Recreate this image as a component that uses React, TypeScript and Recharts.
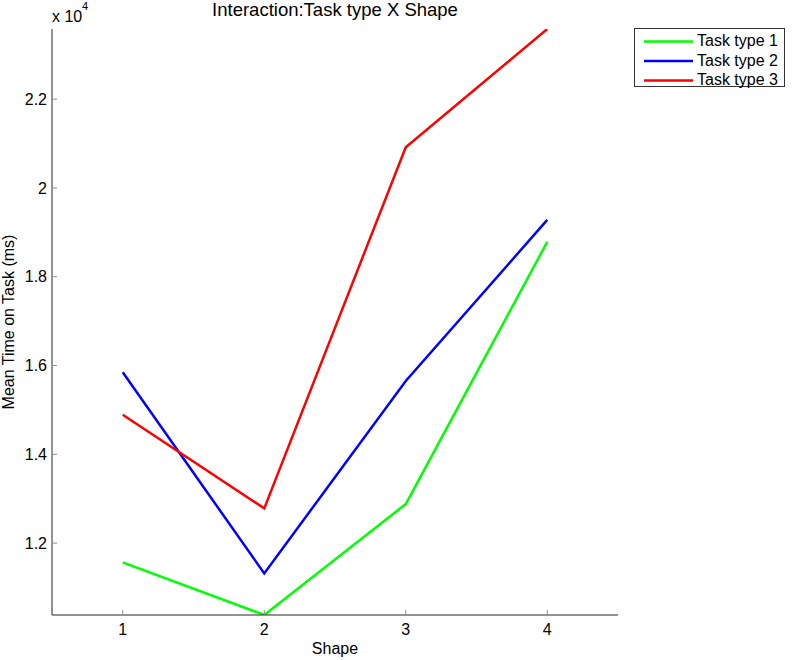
import React from 'react';
import { LineChart, Line, XAxis, YAxis, Legend } from 'recharts';

// values (ms)
const shapes = [1, 2, 3, 4];
const taskType1 = [11565, 10380, 12879, 18784];
const taskType2 = [15847, 11317, 15650, 19280];
const taskType3 = [14892, 12782, 20918, 23580];
const seriesKeys = ['t1', 't2', 't3'];
const seriesNames = ['Task type 1', 'Task type 2', 'Task type 3'];
const seriesColors = ['#00ff00', '#0000ff', '#ff0000'];
const yTicks = [12000, 14000, 16000, 18000, 20000, 22000];
const yDomain = [10380, 23580];
const xDomain = [0.5, 4.5];

const data = shapes.map((s, i) => ({
  shape: s,
  t1: taskType1[i],
  t2: taskType2[i],
  t3: taskType3[i],
}));

const FONT = '"Liberation Sans", Arial, Helvetica, sans-serif';
const darkAxis = '#262626';
const lightAxis = '#8c8c8c';
const TICK_LEN = 5;

const fmtY = (v: number) => String(parseFloat((v / 10000).toFixed(1)));

// MATLAB style: tick marks point into the plot box
const BottomTick = ({ x, y, payload }: any) => (
  <g>
    <line x1={x} x2={x} y1={y} y2={y - TICK_LEN} stroke={lightAxis} />
    <text x={x} y={y + 20} textAnchor="middle" fontSize={16} fontFamily={FONT} fill="#000">
      {payload.value}
    </text>
  </g>
);

const TopTick = ({ x, y }: any) => (
  <line x1={x} x2={x} y1={y} y2={y + TICK_LEN} stroke={lightAxis} />
);

const LeftTick = ({ x, y, payload }: any) => (
  <g>
    <line x1={x} x2={x + TICK_LEN} y1={y} y2={y} stroke={lightAxis} />
    <text x={x - 5} y={y} dy="0.36em" textAnchor="end" fontSize={16} fontFamily={FONT} fill="#000">
      {fmtY(payload.value)}
    </text>
  </g>
);

const RightTick = ({ x, y }: any) => (
  <line x1={x} x2={x - TICK_LEN} y1={y} y2={y} stroke={lightAxis} />
);

const LegendBox = () => (
  <svg width={151} height={60} style={{ display: 'block', overflow: 'visible' }}>
    <rect x={0.5} y={0.5} width={150} height={58} fill="#fff" stroke="#333" />
    {seriesNames.map((name, i) => (
      <g key={name}>
        <line x1={10} x2={59} y1={13.5 + i * 19.5} y2={13.5 + i * 19.5} stroke={seriesColors[i]} strokeWidth={2.5} />
        <text x={63} y={18 + i * 19.5} fontSize={16} fontFamily={FONT} fill="#000">
          {name}
        </text>
      </g>
    ))}
  </svg>
);

export default function App() {
  return (
    <div style={{ position: 'absolute', left: 0, top: 0, width: 793, height: 660, background: '#fff' }}>
      <LineChart width={793} height={660} data={data} margin={{ top: 29, right: 175, bottom: 0, left: 0 }}>
        <XAxis
          dataKey="shape"
          type="number"
          domain={xDomain}
          ticks={shapes}
          interval={0}
          allowDataOverflow
          height={45}
          tickSize={0}
          tickMargin={0}
          tickLine={false}
          axisLine={{ stroke: darkAxis }}
          tick={<BottomTick />}
        />
        <XAxis
          xAxisId="top"
          orientation="top"
          type="number"
          domain={xDomain}
          ticks={shapes}
          interval={0}
          allowDataOverflow
          height={0}
          tickSize={0}
          tickMargin={0}
          tickLine={false}
          axisLine={{ stroke: lightAxis }}
          tick={<TopTick />}
        />
        <YAxis
          type="number"
          domain={yDomain}
          ticks={yTicks}
          interval={0}
          allowDataOverflow
          width={52}
          tickSize={0}
          tickMargin={0}
          tickLine={false}
          axisLine={{ stroke: darkAxis }}
          tick={<LeftTick />}
        />
        <YAxis
          yAxisId="right"
          orientation="right"
          type="number"
          domain={yDomain}
          ticks={yTicks}
          interval={0}
          allowDataOverflow
          width={0}
          tickSize={0}
          tickMargin={0}
          tickLine={false}
          axisLine={{ stroke: lightAxis }}
          tick={<RightTick />}
        />
        {/* middle/center so the legend does not eat into the plot offsets */}
        <Legend
          layout="horizontal"
          align="center"
          verticalAlign="middle"
          wrapperStyle={{ position: 'absolute', left: 634, top: 28, width: 151, height: 60 }}
          content={() => <LegendBox />}
        />
        {seriesKeys.map((k, i) => (
          <Line
            key={k}
            type="linear"
            dataKey={k}
            name={seriesNames[i]}
            stroke={seriesColors[i]}
            strokeWidth={2.5}
            dot={false}
            activeDot={false}
            isAnimationActive={false}
          />
        ))}
      </LineChart>
      <svg
        width={793}
        height={660}
        style={{ position: 'absolute', left: 0, top: 0, pointerEvents: 'none' }}
      >
        <text x={335} y={16} textAnchor="middle" fontSize={18.5} fontFamily={FONT} fill="#000">
          Interaction:Task type X Shape
        </text>
        <text x={52} y={22} fontSize={16} fontFamily={FONT} fill="#000">
          x 10
        </text>
        <text x={82} y={10} fontSize={11} fontFamily={FONT} fill="#000">
          4
        </text>
        <text
          x={13.5}
          y={322}
          textAnchor="middle"
          fontSize={16}
          fontFamily={FONT}
          fill="#000"
          transform="rotate(-90, 13.5, 322)"
        >
          Mean Time on Task (ms)
        </text>
        <text x={335} y={654} textAnchor="middle" fontSize={16} fontFamily={FONT} fill="#000">
          Shape
        </text>
      </svg>
    </div>
  );
}
